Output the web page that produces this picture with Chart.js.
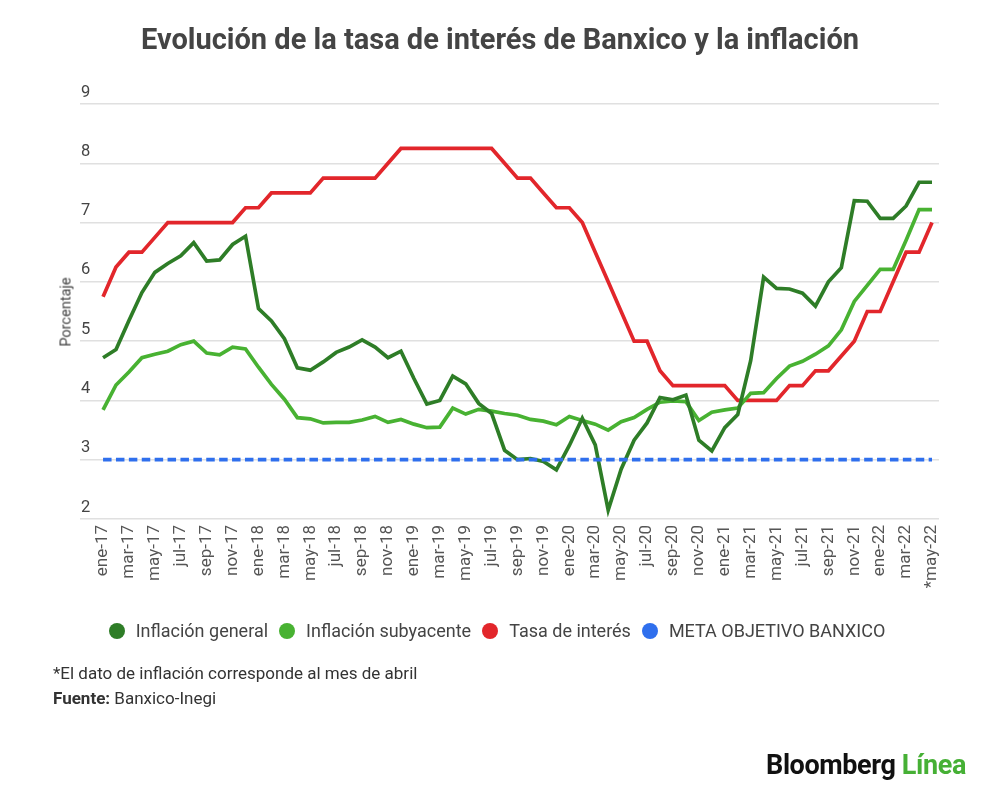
<!DOCTYPE html>
<html lang="es">
<head>
<meta charset="utf-8">
<script src="https://cdn.jsdelivr.net/npm/chart.js@4.4.1/dist/chart.umd.min.js"></script>
<style>
  html, body { margin: 0; padding: 0; background: #fff; }
  body { width: 1000px; height: 799px; position: relative; overflow: hidden; font-family: Roboto, "Noto Sans", sans-serif; }
  #wrap { position: absolute; left: 0; top: 0; width: 1000px; height: 799px; }
  #title { position: absolute; left: 0; top: 25px; width: 1000px; text-align: center; font-weight: 700; font-size: 29px; line-height: 29px; color: #444; }
  #ytitle { position: absolute; left: 66px; top: 312px; transform: translate(-50%, -50%) rotate(-90deg); font-size: 14.5px; color: #444; white-space: nowrap; }
  #legend { position: absolute; left: 0; top: 620px; width: 994px; display: flex; justify-content: center; align-items: center; font-size: 18px; line-height: 22px; color: #444; }
  .item { display: flex; align-items: center; margin: 0 5.5px; }
  .dot { width: 16px; height: 16px; border-radius: 50%; margin-right: 11px; }
  .note { position: absolute; left: 53px; font-size: 17px; line-height: 20px; color: #333; white-space: nowrap; }
  #logo { position: absolute; right: 34px; top: 749px; font-weight: 700; font-size: 27px; line-height: 32px; letter-spacing: -0.4px; color: #111; white-space: nowrap; }
  #logo span { color: #46b035; }
</style>
</head>
<body>
<div id="wrap"><canvas id="c" width="1000" height="799"></canvas></div>
<div id="title">Evolución de la tasa de interés de Banxico y la inflación</div>
<div id="ytitle">Porcentaje</div>
<div id="legend"></div>
<div class="note" style="top:663px">*El dato de inflación corresponde al mes de abril</div>
<div class="note" style="top:688px"><b>Fuente:</b> Banxico-Inegi</div>
<div id="logo">Bloomberg <span>Línea</span></div>
<script>
const months = [
  'ene-17','feb-17','mar-17','abr-17','may-17','jun-17','jul-17','ago-17','sep-17','oct-17','nov-17','dic-17',
  'ene-18','feb-18','mar-18','abr-18','may-18','jun-18','jul-18','ago-18','sep-18','oct-18','nov-18','dic-18',
  'ene-19','feb-19','mar-19','abr-19','may-19','jun-19','jul-19','ago-19','sep-19','oct-19','nov-19','dic-19',
  'ene-20','feb-20','mar-20','abr-20','may-20','jun-20','jul-20','ago-20','sep-20','oct-20','nov-20','dic-20',
  'ene-21','feb-21','mar-21','abr-21','may-21','jun-21','jul-21','ago-21','sep-21','oct-21','nov-21','dic-21',
  'ene-22','feb-22','mar-22','abr-22','*may-22'
];
const inflacionGeneral = [
  4.72, 4.86, 5.35, 5.82, 6.16, 6.31, 6.44, 6.66, 6.35, 6.37, 6.63, 6.77,
  5.55, 5.34, 5.04, 4.55, 4.51, 4.65, 4.81, 4.90, 5.02, 4.90, 4.72, 4.83,
  4.37, 3.94, 4.00, 4.41, 4.28, 3.95, 3.78, 3.16, 3.00, 3.02, 2.97, 2.83,
  3.24, 3.70, 3.25, 2.15, 2.84, 3.33, 3.62, 4.05, 4.01, 4.09, 3.33, 3.15,
  3.54, 3.76, 4.67, 6.08, 5.89, 5.88, 5.81, 5.59, 6.00, 6.24, 7.37, 7.36,
  7.07, 7.07, 7.28, 7.68, 7.68
];
const inflacionSubyacente = [
  3.84, 4.26, 4.48, 4.72, 4.78, 4.83, 4.94, 5.00, 4.80, 4.77, 4.90, 4.87,
  4.56, 4.27, 4.02, 3.71, 3.69, 3.62, 3.63, 3.63, 3.67, 3.73, 3.63, 3.68,
  3.60, 3.54, 3.55, 3.87, 3.77, 3.85, 3.82, 3.78, 3.75, 3.68, 3.65, 3.59,
  3.73, 3.66, 3.60, 3.50, 3.64, 3.71, 3.85, 3.97, 3.99, 3.98, 3.66, 3.80,
  3.84, 3.87, 4.12, 4.13, 4.37, 4.58, 4.66, 4.78, 4.92, 5.19, 5.67, 5.94,
  6.21, 6.21, 6.70, 7.22, 7.22
];
const tasaInteres = [
  5.75, 6.25, 6.50, 6.50, 6.75, 7.00, 7.00, 7.00, 7.00, 7.00, 7.00, 7.25,
  7.25, 7.50, 7.50, 7.50, 7.50, 7.75, 7.75, 7.75, 7.75, 7.75, 8.00, 8.25,
  8.25, 8.25, 8.25, 8.25, 8.25, 8.25, 8.25, 8.00, 7.75, 7.75, 7.50, 7.25,
  7.25, 7.00, 6.50, 6.00, 5.50, 5.00, 5.00, 4.50, 4.25, 4.25, 4.25, 4.25,
  4.25, 4.00, 4.00, 4.00, 4.00, 4.25, 4.25, 4.50, 4.50, 4.75, 5.00, 5.50,
  5.50, 6.00, 6.50, 6.50, 7.00
];
const metaObjetivo = months.map(() => 3);
const yTicks = [2, 3, 4, 5, 6, 7, 8, 9];

const seriesNames = ['Inflación general', 'Inflación subyacente', 'Tasa de interés', 'META OBJETIVO BANXICO'];
const seriesColors = ['#2e7d27', '#48b232', '#e2262b', '#2f6fed'];

const toXY = arr => arr.map((v, i) => ({ x: i, y: v }));

Chart.defaults.font.family = 'Roboto, "Noto Sans", sans-serif';

new Chart(document.getElementById('c'), {
  type: 'line',
  data: {
    datasets: [
      { label: seriesNames[0], data: toXY(inflacionGeneral), borderColor: seriesColors[0], backgroundColor: seriesColors[0], borderWidth: 3.7, order: 2 },
      { label: seriesNames[1], data: toXY(inflacionSubyacente), borderColor: seriesColors[1], backgroundColor: seriesColors[1], borderWidth: 3.7, order: 3 },
      { label: seriesNames[2], data: toXY(tasaInteres), borderColor: seriesColors[2], backgroundColor: seriesColors[2], borderWidth: 3.7, order: 4 },
      { label: seriesNames[3], data: toXY(metaObjetivo), borderColor: seriesColors[3], backgroundColor: seriesColors[3], borderWidth: 3.7, borderDash: [8.5, 4.4], order: 1 }
    ]
  },
  options: {
    responsive: false,
    animation: false,
    events: [],
    elements: { point: { radius: 0 }, line: { tension: 0, borderCapStyle: 'butt', borderJoinStyle: 'miter' } },
    layout: { padding: { left: 80, right: 61, top: 104, bottom: 190 } },
    plugins: { legend: { display: false }, tooltip: { enabled: false }, title: { display: false } },
    scales: {
      x: {
        type: 'linear',
        min: -1.78,
        max: 64.54,
        grid: { display: false, drawTicks: false },
        border: { display: false },
        afterBuildTicks: s => { s.ticks = months.map((m, i) => ({ value: i })).filter(t => t.value % 2 === 0); },
        afterFit: s => { s.height = 90; },
        ticks: {
          autoSkip: false,
          maxRotation: 90,
          minRotation: 90,
          padding: 6,
          color: '#555',
          font: { size: 17 },
          callback: v => months[v]
        }
      },
      y: {
        min: 2,
        max: 9,
        afterBuildTicks: s => { s.ticks = yTicks.map(v => ({ value: v })); },
        afterFit: s => { s.width = 0; },
        grid: { color: '#e0e0e0', lineWidth: 1.5, drawTicks: false },
        border: { display: false },
        ticks: {
          mirror: true,
          padding: 1,
          labelOffset: -11.5,
          color: '#444',
          font: { size: 16.5 }
        }
      }
    }
  }
});

const legend = document.getElementById('legend');
seriesNames.forEach((name, i) => {
  const item = document.createElement('div');
  item.className = 'item';
  const dot = document.createElement('div');
  dot.className = 'dot';
  dot.style.background = seriesColors[i];
  const txt = document.createElement('span');
  txt.textContent = name;
  item.appendChild(dot);
  item.appendChild(txt);
  legend.appendChild(item);
});
</script>
</body>
</html>
